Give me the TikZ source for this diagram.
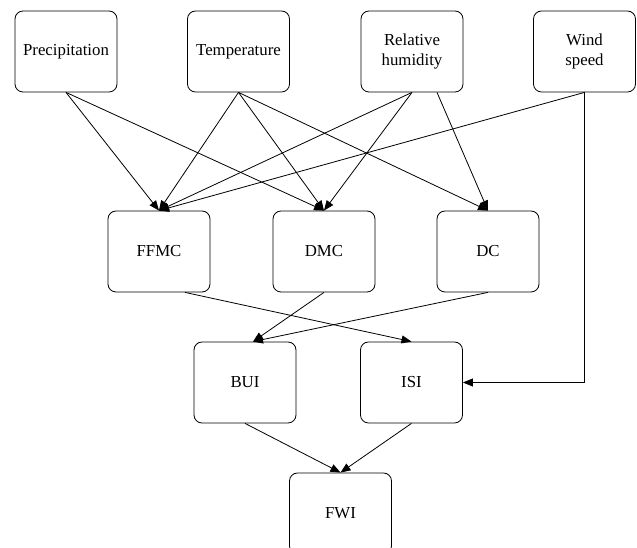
\documentclass[tikz,border=0pt]{standalone}
\usepackage{fontspec}
\setmainfont{Liberation Serif}
\usetikzlibrary{arrows.meta}

\begin{document}
\begin{tikzpicture}
  [x=0.75pt,y=-0.75pt,
  font=\fontsize{12.6}{15}\selectfont,
  box/.style={shape=rectangle,rounded corners=6pt,draw=black,fill=white,text=black,minimum width=76.5pt,minimum height=60.75pt,align=center,line width=0.6pt},
  arc/.style={-{Triangle[length=7.5pt,width=6pt]},line width=0.6pt}]

  \useasboundingbox (0,0) rectangle (637,548);
  \clip (0,0) rectangle (637,548);

  % weather inputs
  \node (P) [box] at (66,51.5) {Precipitation};
  \node (T) [box] at (238.5,51.5) {Temperature};
  \node (H) [box] at (412,51.5) {Relative\\humidity};
  \node (W) [box] at (584.5,51.5) {Wind\\speed};

  % fuel moisture codes
  \node (FFMC) [box] at (159,251.5) {FFMC};
  \node (DMC) [box] at (324,251.5) {DMC};
  \node (DC) [box] at (488,251.5) {DC};

  \node (BUI) [box] at (245,382.5) {BUI};
  \node (ISI) [box] at (411.5,382.5) {ISI};
  \node (FWI) [box] at (340.5,513.5) {FWI};

  \draw [arc] (P.south) to (FFMC.north);
  \draw [arc] (P.south) to (DMC.north);
  \draw [arc] (T.south) to (FFMC.north);
  \draw [arc] (T.south) to (DMC.north);
  \draw [arc] (T.south) to (DC.north);
  \draw [arc] (H.south) to (FFMC.north);
  \draw [arc] (H.south) to (DMC.north);
  \draw [arc] ([xshift=18.75pt]H.south) to (DC.north);
  \draw [arc] (W.south) to (FFMC.north);
  \draw [arc] (W.south) |- (ISI.east);

  \draw [arc] ([xshift=19.5pt]FFMC.south) to (ISI.north);
  \draw [arc] (DMC.south) to ([xshift=6pt]BUI.north);
  \draw [arc] (DC.south) to ([xshift=6pt]BUI.north);
  \draw [arc] (BUI.south) to (FWI.north);
  \draw [arc] (ISI.south) to (FWI.north);

\end{tikzpicture}
\end{document}
